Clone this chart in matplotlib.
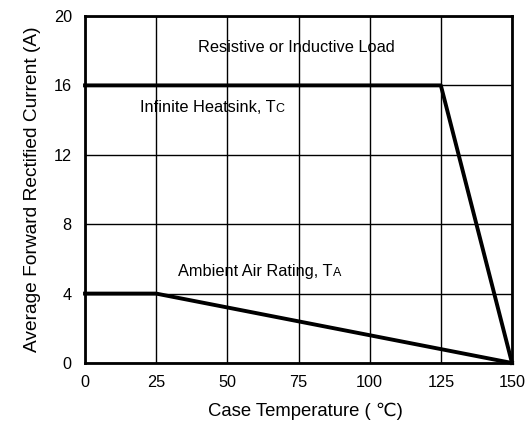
import matplotlib
matplotlib.use("Agg")
import matplotlib.pyplot as plt

plt.rcParams["font.family"] = ["Liberation Sans", "DejaVu Sans"]

# heatsink curve (case temperature vs current)
heatsink_t = [0, 125, 150]
heatsink_i = [16, 16, 0]

# ambient air curve
ambient_t = [0, 25, 150]
ambient_i = [4, 4, 0]

x_ticks = [0, 25, 50, 75, 100, 125, 150]
y_ticks = [0, 4, 8, 12, 16, 20]

fig = plt.figure(figsize=(5.26, 4.21), dpi=100)
ax = fig.add_axes([0.1616, 0.1378, 0.8118, 0.8242])

ax.set_xlim(0, 150)
ax.set_ylim(0, 20)
ax.set_xticks(x_ticks)
ax.set_yticks(y_ticks)
ax.grid(True, color="black", linewidth=1.0)
ax.tick_params(length=0, labelsize=11.7)
ax.tick_params(axis="x", pad=9)
ax.tick_params(axis="y", pad=9.5)
for s in ax.spines.values():
    s.set_linewidth(2)

ax.plot(heatsink_t, heatsink_i, color="black", linewidth=2.8, clip_on=False, zorder=3)
ax.plot(ambient_t, ambient_i, color="black", linewidth=2.8, clip_on=False, zorder=3)

ax.text(74.3, 18.16, "Resistive or Inductive Load", fontsize=11.8, ha="center", va="center")

t1 = ax.text(19.3, 14.75, "Infinite Heatsink, T", fontsize=11.8, ha="left", va="center")
ax.annotate("C", xy=(1, 0), xycoords=t1, fontsize=9, ha="left", va="bottom")

t2 = ax.text(32.7, 5.27, "Ambient Air Rating, T", fontsize=11.8, ha="left", va="center")
ax.annotate("A", xy=(1, 0), xycoords=t2, fontsize=9, ha="left", va="bottom")

ax.set_xlabel("Case Temperature ( \u2103)", fontsize=13.3, labelpad=9)
ax.xaxis.label.set_x(0.516)
ax.set_ylabel("Average Forward Rectified Current (A)", fontsize=13.8, labelpad=9)

plt.savefig("out.png", dpi=100)
